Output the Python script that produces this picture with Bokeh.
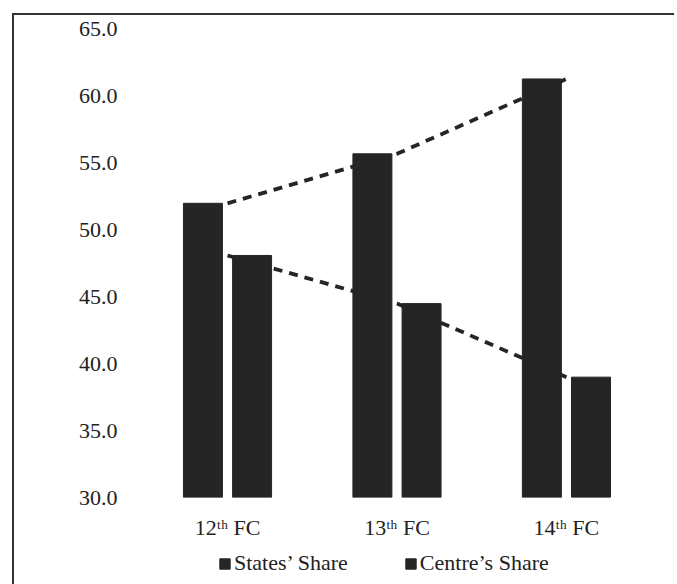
from bokeh.plotting import figure
from bokeh.layouts import column
from bokeh.models import (ColumnDataSource, FixedTicker, PrintfTickFormatter, Range1d,
                          Legend, LegendItem)
from bokeh.embed import file_html
from bokeh.resources import INLINE

categories = ["12ᵗʰ FC", "13ᵗʰ FC", "14ᵗʰ FC"]
states_share = [52.0, 55.7, 61.3]
centre_share = [48.1, 44.5, 39.0]
y_ticks = [30, 35, 40, 45, 50, 55, 60, 65]
legend_labels = ["States’ Share", "Centre’s Share"]

FONT = "Liberation Serif"
BAR = "#252525"
TXT = "#222222"

xpos = list(range(len(categories)))
src = ColumnDataSource(dict(
    x=xpos,
    xs=[v - 0.145 for v in xpos],
    xc=[v + 0.145 for v in xpos],
    states=states_share,
    centre=centre_share,
))

X0, X1 = -0.602, 2.555
Y0, Y1 = 30, 65.67
p = figure(width=660, height=527, output_backend="svg", toolbar_location=None,
           x_range=Range1d(X0, X1), y_range=Range1d(Y0, Y1),
           min_border_left=111, min_border_right=14, min_border_top=5,
           min_border_bottom=44)
p.outline_line_color = None
p.xgrid.visible = False
p.ygrid.visible = False

p.line("x", "states", source=src, line_color=BAR, line_width=3.8, line_dash="9 7")
p.line("x", "centre", source=src, line_color=BAR, line_width=3.8, line_dash="9 7")

p.vbar(x="xs", top="states", bottom=30, width=0.23, source=src,
       fill_color=BAR, line_color=BAR)
p.vbar(x="xc", top="centre", bottom=30, width=0.23, source=src,
       fill_color=BAR, line_color=BAR)

p.yaxis.ticker = FixedTicker(ticks=y_ticks)
p.yaxis.formatter = PrintfTickFormatter(format="%.1f")
p.yaxis.axis_line_color = None
p.yaxis.major_tick_line_color = None
p.yaxis.minor_tick_line_color = None
p.yaxis.major_label_standoff = 2
p.yaxis.major_label_text_font = FONT
p.yaxis.major_label_text_font_size = "22px"
p.yaxis.major_label_text_color = TXT

p.xaxis.ticker = FixedTicker(ticks=xpos)
p.xaxis.major_label_overrides = {i: c for i, c in zip(xpos, categories)}
p.xaxis.axis_line_color = None
p.xaxis.major_tick_line_color = None
p.xaxis.minor_tick_line_color = None
p.xaxis.major_label_standoff = 11
p.xaxis.major_label_text_font = FONT
p.xaxis.major_label_text_font_size = "22px"
p.xaxis.major_label_text_color = TXT

# legend strip below the chart
lg = figure(width=660, height=42, output_backend="svg", toolbar_location=None,
            x_range=Range1d(0, 1), y_range=Range1d(0, 1),
            min_border_left=0, min_border_right=0, min_border_top=0,
            min_border_bottom=0)
lg.axis.visible = False
lg.grid.visible = False
lg.outline_line_color = None
nodata = ColumnDataSource(dict(x=[float("nan")], top=[float("nan")]))
g1 = lg.vbar(x="x", top="top", width=0.1, source=nodata, fill_color=BAR, line_color=BAR)
g2 = lg.vbar(x="x", top="top", width=0.1, source=nodata, fill_color=BAR, line_color=BAR)
legend = Legend(items=[LegendItem(label=legend_labels[0], renderers=[g1]),
                       LegendItem(label=legend_labels[1], renderers=[g2])],
                orientation="horizontal", location=(93, 8),
                label_text_font=FONT, label_text_font_size="22px",
                label_text_color=TXT, glyph_width=13, glyph_height=13,
                spacing=56, label_standoff=3, border_line_color=None,
                background_fill_alpha=0, padding=2, margin=0)
lg.add_layout(legend)

layout = column(p, lg, spacing=0,
                styles={"margin-left": "12px", "margin-top": "13px",
                        "border-left": "2px solid #333333",
                        "border-top": "2px solid #333333"})

open("out.html", "w").write(file_html(layout, INLINE))
